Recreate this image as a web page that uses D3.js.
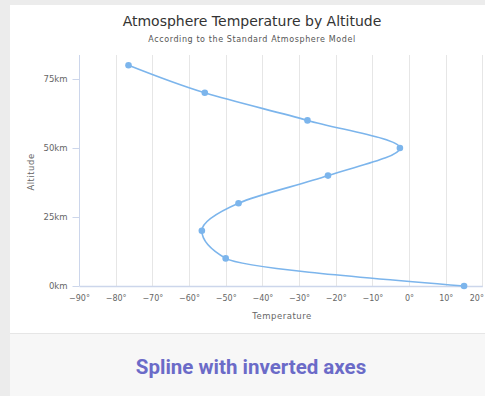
<!DOCTYPE html>
<html><head><meta charset="utf-8">
<script src="https://cdn.jsdelivr.net/npm/d3@7"></script>
<style>
html,body{margin:0;padding:0;background:#ececec;overflow:hidden;}
svg{display:block;}
</style></head>
<body>
<svg id="c" width="485" height="396"></svg>
<script>
const altitudes = [0, 10, 20, 30, 40, 50, 60, 70, 80];
const temperatures = [15, -50, -56.5, -46.5, -22.1, -2.5, -27.7, -55.7, -76.5];
const tempTicks = [-90, -80, -70, -60, -50, -40, -30, -20, -10, 0, 10, 20];
const altTicks = [0, 25, 50, 75];
const titleText = "Atmosphere Temperature by Altitude";
const subtitleText = "According to the Standard Atmosphere Model";
const xTitle = "Temperature";
const yTitle = "Altitude";
const captionText = "Spline with inverted axes";

const svg = d3.select("#c");
const font = "'DejaVu Sans', Verdana, sans-serif";

// card
svg.append("rect").attr("x",10).attr("y",5).attr("width",480).attr("height",400).attr("fill","#ffffff");
svg.append("rect").attr("x",10).attr("y",333).attr("width",480).attr("height",70).attr("fill","#f7f7f7");
svg.append("line").attr("x1",10).attr("x2",490).attr("y1",333.5).attr("y2",333.5).attr("stroke","#e6e6e6");

const x = d3.scaleLinear().domain([-90, 20]).range([79, 482.4]);
const y = d3.scaleLinear().domain([0, 83.7]).range([286, 55]);

// grid
const g = svg.append("g");
g.selectAll("line.grid").data(tempTicks).join("line")
  .attr("x1", d => Math.round(x(d))+0.5).attr("x2", d => Math.round(x(d))+0.5)
  .attr("y1", y.range()[1]).attr("y2", y(0))
  .attr("stroke", "#e6e6e6").attr("stroke-width", 1);

// bottom axis
const xAxis = d3.axisBottom(x).tickValues(tempTicks).tickSize(0).tickPadding(9)
  .tickFormat(d => d3.format("d")(d).replace("-", "\u2212") + "°");
const gx = svg.append("g").attr("transform", "translate(0,286)").call(xAxis);
gx.select(".domain").attr("stroke", "#ccd6eb").attr("stroke-width", 1.5);
gx.selectAll("text").attr("font-family", font).attr("font-size", 8).attr("fill", "#666666");
gx.selectAll(".tick").filter(d => d === tempTicks[tempTicks.length - 1])
  .select("text").attr("text-anchor", "end").attr("dx", 1);

// left axis
const yAxis = d3.axisLeft(y).tickValues(altTicks).tickSize(7).tickPadding(5)
  .tickFormat(d => d + "km");
const gy = svg.append("g").attr("transform", "translate(79.5,0)").call(yAxis);
gy.select(".domain").attr("stroke", "#ccd6eb").attr("d", `M0,${y.range()[1]}V${y(0)}`);
gy.selectAll(".tick line").attr("stroke", "#ccd6eb");
gy.selectAll("text").attr("font-family", font).attr("font-size", 8.5).attr("fill", "#666666");

// titles
svg.append("text").attr("x", 252).attr("y", 26).attr("text-anchor", "middle")
  .attr("font-family", font).attr("font-size", 14).attr("fill", "#333333").text(titleText);
svg.append("text").attr("x", 252).attr("y", 42).attr("text-anchor", "middle")
  .attr("font-family", font).attr("font-size", 8).attr("letter-spacing", 0.6)
  .attr("fill", "#555555").text(subtitleText);
svg.append("text").attr("x", 282).attr("y", 319).attr("text-anchor", "middle")
  .attr("font-family", font).attr("font-size", 8.5).attr("letter-spacing", 0.5)
  .attr("fill", "#666666").text(xTitle);
svg.append("text").attr("transform", "translate(34,172) rotate(-90)").attr("text-anchor", "middle")
  .attr("font-family", font).attr("font-size", 8.5).attr("letter-spacing", 0.5)
  .attr("fill", "#666666").text(yTitle);

// series
const pts = altitudes.map((a, i) => ({alt: a, t: temperatures[i]}));
const line = d3.line().x(d => x(d.t)).y(d => y(d.alt)).curve(d3.curveMonotoneY);
svg.append("path").datum(pts).attr("d", line).attr("fill", "none")
  .attr("stroke", "#7cb5ec").attr("stroke-width", 1.6);
svg.selectAll("circle.pt").data(pts).join("circle")
  .attr("cx", d => x(d.t)).attr("cy", d => y(d.alt)).attr("r", 3.3).attr("fill", "#7cb5ec");

// caption
svg.append("text").attr("x", 251).attr("y", 374).attr("text-anchor", "middle")
  .attr("font-family", "Roboto, sans-serif").attr("font-weight", 700).attr("font-size", 20.5)
  .attr("fill", "#6b6bc8").text(captionText);
</script>
</body></html>
